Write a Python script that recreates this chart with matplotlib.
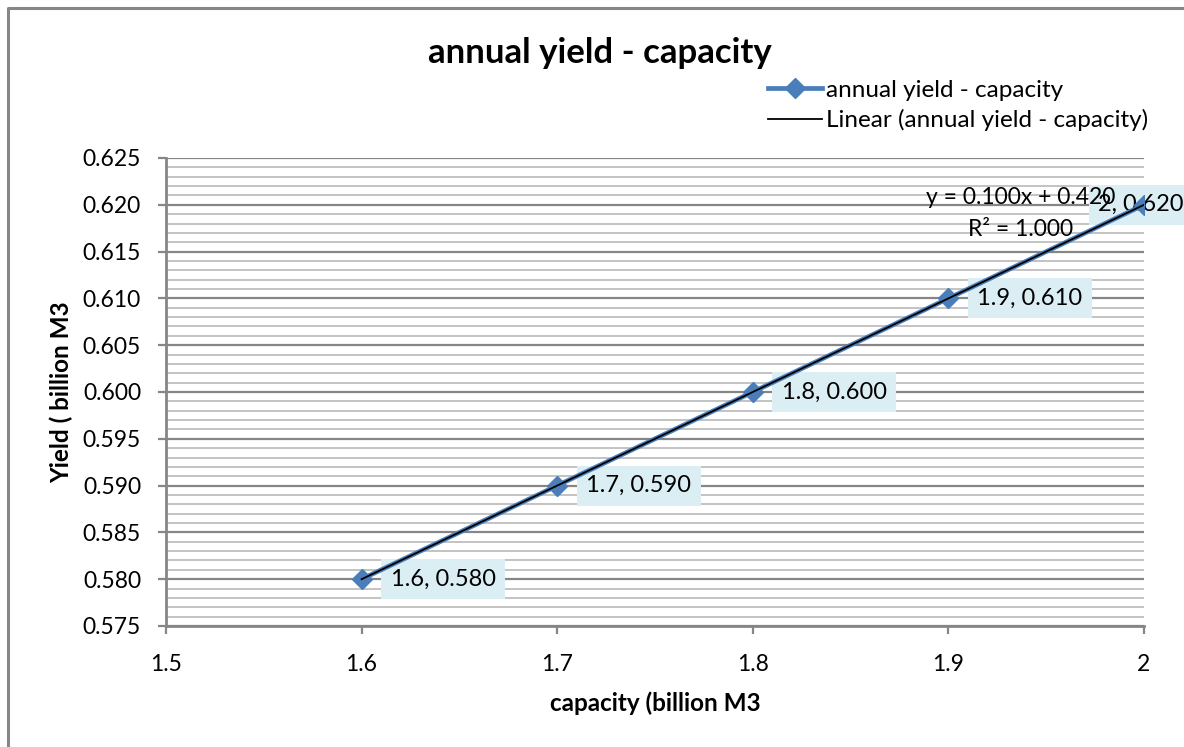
import numpy as np
import matplotlib
matplotlib.use("Agg")
import matplotlib.pyplot as plt
from matplotlib.ticker import MultipleLocator, FormatStrFormatter
from matplotlib.lines import Line2D

plt.rcParams['font.family'] = ['Lato', 'DejaVu Sans']

# capacity vs annual yield (billion M3)
capacity = [1.6, 1.7, 1.8, 1.9, 2.0]
yield_ = [0.580, 0.590, 0.600, 0.610, 0.620]
point_labels = ["1.6, 0.580", "1.7, 0.590", "1.8, 0.600", "1.9, 0.610", "2, 0.620"]

x_ticks = [1.5, 1.6, 1.7, 1.8, 1.9, 2.0]
x_tick_labels = ["1.5", "1.6", "1.7", "1.8", "1.9", "2"]

# linear fit for the trendline
slope, intercept = np.polyfit(capacity, yield_, 1)
fit = np.polyval([slope, intercept], capacity)
r2 = 1 - np.sum((np.array(yield_) - fit) ** 2) / np.sum((np.array(yield_) - np.mean(yield_)) ** 2)

W, H = 1184, 747
fig = plt.figure(figsize=(W / 100, H / 100), dpi=100)
ax = fig.add_axes([166 / W, 1 - 626 / H, (1144 - 166) / W, (626 - 158) / H])

# outer chart frame (left and top edges only)
fx, fy = 7.5 / W, 1 - 7.5 / H
fig.add_artist(Line2D([fx, fx, 1.01], [-0.01, fy, fy], transform=fig.transFigure,
                      color="#878787", linewidth=2.2))

blue = "#4A7EBB"
ax.plot(capacity, yield_, color=blue, linewidth=3.4, marker="D", markersize=10.5,
        label="annual yield - capacity", zorder=3)
ax.plot(capacity, fit, color="black", linewidth=1.3,
        label="Linear (annual yield - capacity)", zorder=4)

box = dict(boxstyle="square,pad=0.4", facecolor="#DBEEF4", edgecolor="none")
for i, (x, y, txt) in enumerate(zip(capacity, yield_, point_labels)):
    dx = 29 if i < len(capacity) - 1 else -46
    ax.annotate(txt, (x, y), xytext=(dx, 0), textcoords="offset pixels",
                ha="left", va="center", fontsize=17, bbox=box, zorder=2)

ax.text(1.937, 0.6208, "y = %.3fx + %.3f" % (slope, intercept), ha="center", va="center",
        fontsize=16.5, zorder=5)
ax.text(1.937, 0.6174, "R² = %.3f" % r2, ha="center", va="center", fontsize=16.5, zorder=5)

ax.set_xlim(1.5, 2.0)
ax.set_ylim(0.575, 0.625)
ax.set_xticks(x_ticks)
ax.set_xticklabels(x_tick_labels)
ax.yaxis.set_major_locator(MultipleLocator(0.005))
ax.yaxis.set_minor_locator(MultipleLocator(0.001))
ax.yaxis.set_major_formatter(FormatStrFormatter("%.3f"))

ax.grid(axis="y", which="major", color="#868686", linewidth=1.6, zorder=0)
ax.grid(axis="y", which="minor", color="#c3c3c3", linewidth=1.4, zorder=0)
ax.set_axisbelow(True)

for s in ["top", "right"]:
    ax.spines[s].set_visible(False)
for s in ["left", "bottom"]:
    ax.spines[s].set_color("#868686")
    ax.spines[s].set_linewidth(2)

ax.tick_params(axis="both", which="major", length=6, width=1.6, color="#868686",
               labelsize=16.5)
ax.tick_params(axis="y", which="major", pad=12)
ax.tick_params(axis="x", which="major", pad=14)
ax.tick_params(axis="y", which="minor", length=0)

ax.set_xlabel("capacity (billion M3", fontsize=17.5, fontweight="bold", labelpad=12)
ax.set_ylabel("Yield ( billion M3", fontsize=17.5, fontweight="bold", labelpad=7)

fig.text(600 / W, 1 - 53 / H, "annual yield - capacity", ha="center", va="center",
         fontsize=25, fontweight="bold")

ax.legend(loc="upper left", bbox_to_anchor=(0.606, 1.188), frameon=False, fontsize=17.5,
          handlelength=2.2, handletextpad=0.15, labelspacing=0.35, borderaxespad=0)

fig.savefig("out.png", dpi=100)
